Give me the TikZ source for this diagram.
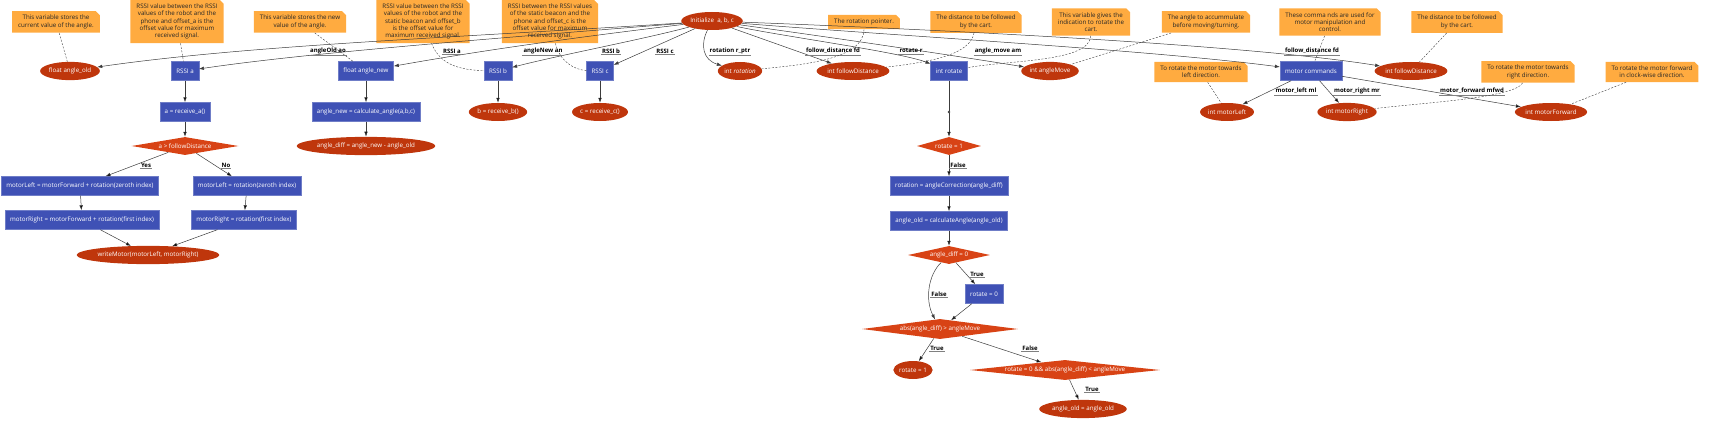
\documentclass[tikz,border=0pt]{standalone}
\usepackage{fontspec}
\setmainfont{Open Sans}
\usetikzlibrary{arrows.meta,shapes.geometric,shapes.misc}
\definecolor{notecol}{RGB}{255,171,64}
\definecolor{boxcol}{RGB}{63,81,181}
\definecolor{ovalcol}{RGB}{191,54,12}
\definecolor{diacol}{RGB}{216,67,21}
\definecolor{linecol}{RGB}{60,60,60}

\begin{document}
\begin{tikzpicture}[x=1pt,y=-1pt,>={Latex[length=5pt,width=3.5pt]},
  font=\fontsize{6.2}{7.3}\selectfont,
  note/.style={chamfered rectangle,chamfered rectangle corners=north east,
    chamfered rectangle xsep=2pt,chamfered rectangle ysep=2pt,
    fill=notecol,text=black!85,align=center,inner xsep=4pt,inner ysep=2pt},
  box/.style={rectangle,fill=boxcol,draw=boxcol!75!white,text=white,
    minimum height=19pt,inner xsep=5pt},
  oval/.style={ellipse,fill=ovalcol,text=white,minimum height=18pt,inner xsep=0pt},
  test/.style={diamond,fill=diacol,text=white,inner sep=0pt,minimum height=18pt,shape aspect=6},
  lbl/.style={font=\fontsize{6}{7}\selectfont\bfseries,inner sep=1pt,
    append after command={(\tikzlastnode.south west) edge[draw=gray,line width=0.4pt] (\tikzlastnode.south east)}},
  link/.style={->,draw=linecol,line width=0.5pt},
  hint/.style={dashed,draw=linecol,line width=0.4pt,dash pattern=on 2pt off 1.5pt}]
\useasboundingbox (0,0) rectangle (1714,436);

% notes
\node[note] (n_old) at (56,22) {This variable stores the\\current value of the angle.};
\node[note] (n_a) at (177,21.5) {RSSI value between the RSSI\\values of the robot and the\\phone and offset\_a is the\\offset value for maximum\\received signal.};
\node[note] (n_new) at (300,22) {This variable stores the new\\value of the angle.};
\node[note] (n_b) at (423,21.5) {RSSI value between the RSSI\\values of the robot and the\\static beacon and offset\_b\\is the offset value for\\maximum received signal.};
\node[note] (n_c) at (550,21.5) {RSSI between the RSSI values\\of the static beacon and the\\phone and offset\_c is the\\offset value for maximum\\received signal.};
\node[note] (n_rot) at (864,22) {The rotation pointer.};
\node[note] (n_fd) at (976,22) {The distance to be followed\\by the cart.};
\node[note] (n_rotate) at (1091,22) {This variable gives the\\indication to rotate the\\cart.};
\node[note] (n_am) at (1206,22) {The angle to accummulate\\before moving/turning.};
\node[note] (n_mc) at (1330,22) {These comma nds are used for\\motor manipulation and\\control.};
\node[note] (n_fd2) at (1457,22) {The distance to be followed\\by the cart.};
\node[note] (n_left) at (1201,72) {To rotate the motor towards\\left direction.};
\node[note] (n_right) at (1528,72) {To rotate the motor towards\\right direction.};
\node[note] (n_fwd) at (1652,72) {To rotate the motor forward\\in clock-wise direction.};

% start and variables
\node[oval] (init) at (712,21) {Initialize\ \ a, b, c};
\node[oval] (angleOld) at (70,71) {float angle\_old};
\node[box] (rssiA) at (185,71) {RSSI a};
\node[box] (angleNew) at (366,71) {float angle\_new};
\node[box] (rssiB) at (498,71) {RSSI b};
\node[box] (rssiC) at (600,71) {RSSI c};
\node[oval] (rotation) at (740,71) {int \textit{rotation}};
\node[oval] (followDist) at (853,71) {int followDistance};
\node[box] (rotate) at (949,71) {int rotate};
\node[oval] (angleMove) at (1050,71) {int angleMove};
\node[box] (motorCmd) at (1311,71) {motor commands};
\node[oval] (followDist2) at (1411,71) {int followDistance};

\node[box] (recvA) at (185,112) {a = receive\_a()};
\node[box] (calcAngle) at (366,112) {angle\_new = calculate\_angle(a,b,c)};
\node[oval] (recvB) at (498,112) {b = receive\_b()};
\node[oval] (recvC) at (600,112) {c = receive\_c()};
\node[circle,fill=linecol,inner sep=0.9pt] (pt) at (949,112) {};
\node[oval] (motorLeft) at (1227,112) {int motorLeft};
\node[oval] (motorRight) at (1347,112) {int motorRight};
\node[oval] (motorFwd) at (1551,112) {int motorForward};

% left flow
\node[test,minimum width=107pt] (cmpA) at (185,146) {a > followDistance};
\node[oval] (angleDiff) at (366,146) {angle\_diff = angle\_new - angle\_old};
\node[box] (setL1) at (80,186) {motorLeft = motorForward + rotation(zeroth index)};
\node[box] (setL2) at (247,186) {motorLeft = rotation(zeroth index)};
\node[box] (setR1) at (82,220) {motorRight = motorForward + rotation(first index)};
\node[box] (setR2) at (244,220) {motorRight = rotation(first index)};
\node[oval] (write) at (148,255) {writeMotor(motorLeft, motorRight)};

% right flow
\node[test,minimum width=64pt] (isRot) at (949,146) {rotate = 1};
\node[box] (corr) at (949,186) {rotation = angleCorrection(angle\_diff)};
\node[box] (calcOld) at (949,221) {angle\_old = calculateAngle(angle\_old)};
\node[test,minimum width=82pt] (zeroDiff) at (949,255) {angle\_diff = 0};
\node[box] (rotZero) at (984,294) {rotate = 0};
\node[test,minimum width=156pt,minimum height=20pt,shape aspect=8] (bigDiff) at (940,329) {abs(angle\_diff) > angleMove};
\node[oval] (rotOne) at (913,370) {rotate = 1};
\node[test,minimum width=190pt,minimum height=20pt,shape aspect=10] (smallDiff) at (1065,370) {rotate = 0 \&\& abs(angle\_diff) < angleMove};
\node[oval] (keepOld) at (1083,409) {angle\_old = angle\_old};

% edges from init
\draw[link] (init) .. controls (450,38) and (250,45) .. (angleOld);
\draw[link] (init) .. controls (460,41) and (300,54) .. (rssiA);
\draw[link] (init) .. controls (520,44) and (440,58) .. (angleNew);
\draw[link] (init) .. controls (640,40) and (560,55) .. (rssiB);
\draw[link] (init) -- (rssiC);
\draw[link] (init) .. controls (700,45) and (703,60) .. (rotation);
\draw[link] (init) -- (followDist);
\draw[link] (init) .. controls (780,36) and (900,52) .. (rotate);
\draw[link] (init) .. controls (850,40) and (950,55) .. (angleMove);
\draw[link] (init) .. controls (900,36) and (1150,50) .. (motorCmd);
\draw[link] (init) .. controls (950,30) and (1250,45) .. (followDist2);

\node[lbl] (l_ao) at (328,51) {angleOld ao};
\node[lbl] (l_ra) at (452,51) {RSSI a};
\node[lbl] (l_an) at (543,51) {angleNew an};
\node[lbl] (l_rb) at (611,51) {RSSI b};
\node[lbl] (l_rc) at (665,51) {RSSI c};
\node[lbl] (l_rp) at (730,51) {rotation r\_ptr};
\node[lbl] (l_fd) at (833,51) {follow\_distance fd};
\node[lbl] (l_r) at (911,51) {rotate r};
\node[lbl] (l_am) at (998,51) {angle\_move am};
\node[lbl] (l_fd2) at (1312,51) {follow\_distance fd};

\path[link] (motorCmd) edge (motorLeft)
  (motorCmd) edge (motorRight)
  (motorCmd) edge (motorFwd);
\node[lbl] (l_ml) at (1296,91) {motor\_left ml};
\node[lbl] (l_mr) at (1357,91) {motor\_right mr};
\node[lbl] (l_mf) at (1472,91) {motor\_forward mfwd};

% flow edges
\path[link] (rssiA) edge (recvA)
  (recvA) edge (cmpA)
  (cmpA) edge (setL1)
  (cmpA) edge (setL2)
  (setL1) edge (setR1)
  (setL2) edge (setR2)
  (setR1) edge (write)
  (setR2) edge (write)
  (angleNew) edge (calcAngle)
  (calcAngle) edge (angleDiff)
  (rssiB) edge (recvB)
  (rssiC) edge (recvC)
  (pt) edge (isRot)
  (isRot) edge (corr)
  (corr) edge (calcOld)
  (calcOld) edge (zeroDiff)
  (zeroDiff) edge (rotZero)
  (rotZero) edge (bigDiff)
  (bigDiff) edge (rotOne)
  (bigDiff) edge (smallDiff)
  (smallDiff) edge (keepOld);
\draw[draw=linecol,line width=0.5pt] (rotate) -- (pt);
\draw[link] (zeroDiff) .. controls (928,275) and (925,300) .. (bigDiff);
\node[lbl] (l_yes) at (146,165) {Yes};
\node[lbl] (l_no) at (226,165) {No};
\node[lbl] (l_f1) at (958,165) {False};
\node[lbl] (l_t1) at (977,274) {True};
\node[lbl] (l_f2) at (939,294) {False};
\node[lbl] (l_t2) at (937,348) {True};
\node[lbl] (l_f3) at (1030,348) {False};
\node[lbl] (l_t3) at (1092,389) {True};

% notes to nodes
\path[hint] (n_old) edge (angleOld)
  (n_a) edge (rssiA)
  (n_new) edge (angleNew)
  (n_am) edge (angleMove)
  (n_mc) edge (motorCmd)
  (n_fd2) edge (followDist2)
  (n_left) edge (motorLeft)
  (n_fwd) edge (motorFwd);
\draw[hint] (n_b) .. controls (440,65) and (460,70) .. (rssiB);
\draw[hint] (n_c) .. controls (560,62) and (575,70) .. (rssiC);
\draw[hint] (n_rot) .. controls (864,60) and (800,65) .. (rotation);
\draw[hint] (n_fd) .. controls (970,55) and (930,62) .. (followDist);
\draw[hint] (n_rotate) .. controls (1090,62) and (1010,60) .. (rotate);
\draw[hint] (n_right) .. controls (1515,98) and (1420,103) .. (motorRight);
\end{tikzpicture}
\end{document}
